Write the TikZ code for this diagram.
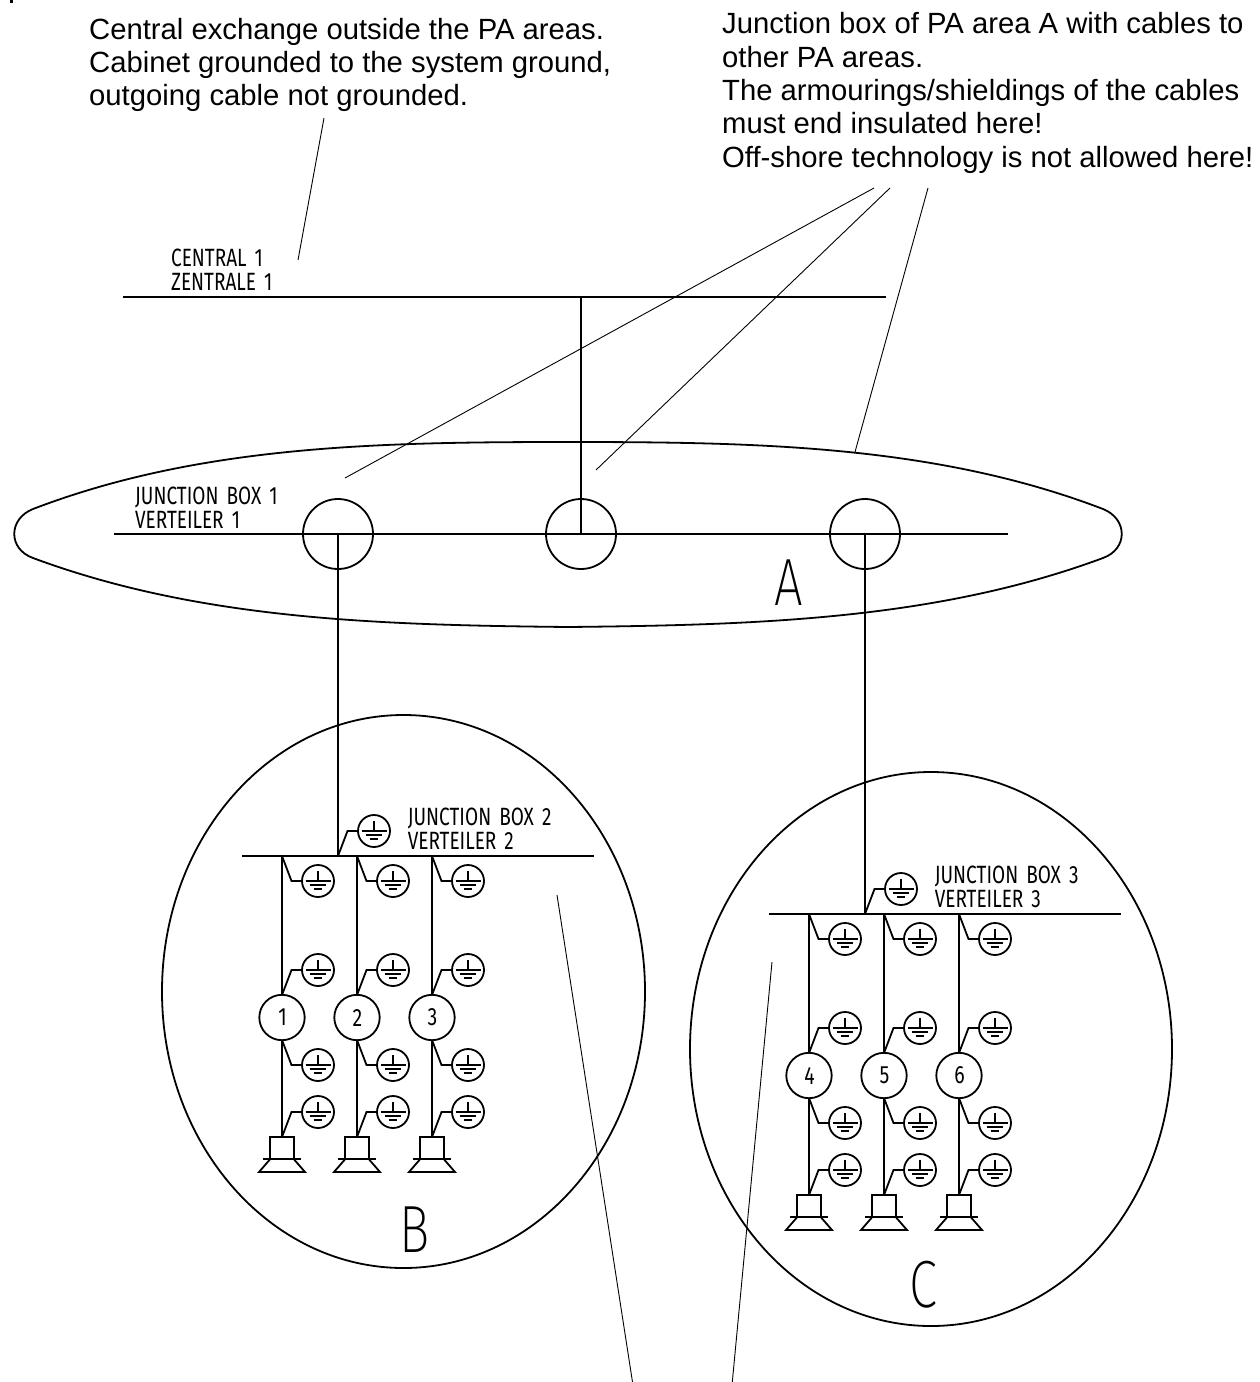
\documentclass[tikz,border=0pt]{standalone}
\usepackage{fontspec}
\setmainfont{Liberation Sans}
\newfontfamily\techfont[WordSpace=1.6]{Fira Sans}
\newfontfamily\bigfont{Fira Sans ExtraLight}
\tikzset{
  x=1pt,y=-1pt,
  wire/.style={draw=black,line width=1.8pt,line join=miter},
  leader/.style={draw=black,line width=0.9pt},
  note/.style={anchor=base west,inner sep=0pt,align=left,font=\fontsize{29.25}{33.3}\selectfont},
  devcircle/.style={circle,draw=black,fill=white,line width=1.8pt,minimum size=45.4pt,inner sep=0pt},
  hubcircle/.style={circle,draw=black,line width=1.8pt,minimum size=70pt,inner sep=0pt},
  gndcircle/.style={circle,draw=black,line width=1.8pt,minimum size=32pt,inner sep=0pt},
  techlabel/.style={anchor=base west,inner sep=0pt,font=\techfont\fontsize{25}{25}\selectfont,xscale=0.76},
  devlabel/.style={inner sep=0pt,font=\techfont\fontsize{25}{25}\selectfont,xscale=0.78},
  biglabel/.style={inner sep=0pt,font=\bigfont\fontsize{66.8}{66.8}\selectfont,xscale=0.76},
}
% ground symbol: #1 name, #2,#3 attach point, #4 direction (+1 down, -1 up)
\newcommand{\gnd}[4]{%
  \coordinate (#1a) at (#2,#3);
  \node[gndcircle] (#1) at ([xshift=36pt,yshift=-#4*25pt]#1a) {};
  \draw[wire] (#1a) -- ([xshift=9.5pt,yshift=-#4*25pt]#1a) -- (#1.west);
  \draw[wire] ([xshift=-12.5pt]#1.center) -- ([xshift=12.5pt]#1.center);
  \draw[wire] (#1.center) -- ([yshift=10.5pt]#1.center);
  \draw[wire] ([xshift=-8pt,yshift=-4pt]#1.center) -- ([xshift=8pt,yshift=-4pt]#1.center);
  \draw[wire] ([xshift=-4.3pt,yshift=-8pt]#1.center) -- ([xshift=4.3pt,yshift=-8pt]#1.center);
}
\begin{document}
\begin{tikzpicture}
\useasboundingbox (0,0) rectangle (1260,1382);
\fill[white] (0,0) rectangle (1260,1382);
\fill[black] (10,0) rectangle (13,3);

% notes
\node[note] (noteL1) at (89,39.3) {Central exchange outside the PA areas.};
\node[note] (noteL2) at (89,72.6) {Cabinet grounded to the system ground,};
\node[note] (noteL3) at (89,105.9) {outgoing cable not grounded.};
\node[note] (noteR1) at (722,33.5) {Junction box of PA area A with cables to};
\node[note] (noteR2) at (722,67) {other PA areas.};
\node[note] (noteR3) at (722,100.3) {The armourings/shieldings of the cables};
\node[note] (noteR4) at (722,133.7) {must end insulated here!};
\node[note] (noteR5) at (722,167) {Off-shore technology is not allowed here!};

% area A
\draw[wire] (33,509) .. controls (200,445) and (380,442) .. (568,442)
  .. controls (756,442) and (936,445) .. (1103,509)
  .. controls (1128,519) and (1128,549) .. (1103,558)
  .. controls (936,620) and (756,625) .. (568,627)
  .. controls (380,625) and (200,620) .. (33,558)
  .. controls (8,549) and (8,519) .. (33,509) -- cycle;

% central bus and box 1
\coordinate (cbL) at (123,297); \coordinate (cbR) at (886,297); \coordinate (cbT) at (581,297);
\coordinate (jbL) at (114,534); \coordinate (jbR) at (1008,534);
\draw[wire] (cbL) -- (cbR);
\draw[wire] (jbL) -- (jbR);
\node[hubcircle] (hub1) at (338,534) {};
\node[hubcircle] (hub2) at (581,534) {};
\node[hubcircle] (hub3) at (865,534) {};
\draw[wire] (cbT) -- (hub2.center);
\node[techlabel] (lc1) at (171,266.5) {CENTRAL 1};
\node[techlabel] (lc2) at (171,290) {ZENTRALE 1};
\node[techlabel] (lj1) at (135,504.5) {JUNCTION BOX 1};
\node[techlabel] (lj2) at (135,528.3) {VERTEILER 1};
\node[biglabel] (lA) at (789,582.5) {A};

% areas B and C
\draw[wire] (403.5,991.5) ellipse [x radius=241.5, y radius=276.5];
\draw[wire] (931,1049) ellipse [x radius=241, y radius=277];
\node[biglabel] (lB) at (414.5,1230) {B};
\node[biglabel] (lC) at (923,1285) {C};

\foreach \dx/\dy/\pre/\na/\nb/\nc/\jb in {0/0/b/1/2/3/2, 527/58/c/4/5/6/3}{
  \begin{scope}[shift={(\dx,\dy)}]
    \coordinate (\pre busL) at (242,856);
    \coordinate (\pre busR) at (594,856);
    \coordinate (\pre feed) at (338,856);
    \draw[wire] (\pre busL) -- (\pre busR);
    \gnd{\pre gt}{338}{856}{-1}
    \node[techlabel] at (407.7,825.7) {JUNCTION BOX \jb};
    \node[techlabel] at (407.7,849) {VERTEILER \jb};
    \foreach \x/\n in {282/\na,357/\nb,432/\nc}{
      \coordinate (\pre top\n) at (\x,856);
      \coordinate (\pre spk\n) at (\x,1137);
      \draw[wire] (\pre top\n) -- (\pre spk\n);
      \node[devcircle] (\pre dev\n) at (\x,1017.5) {};
      \node[devlabel] at (\x+0.5,1017.5) {\n};
      \gnd{\pre g1\n}{\x}{856}{1}
      \gnd{\pre g2\n}{\x}{995}{-1}
      \gnd{\pre g3\n}{\x}{1040}{1}
      \gnd{\pre g4\n}{\x}{1137}{-1}
      \draw[wire] (\x-11.7,1159) -- (\x-11.7,1137) -- (\x+11.7,1137) -- (\x+11.7,1159);
      \draw[wire] (\x-18.7,1159) -- (\x+18.7,1159);
      \draw[wire] (\x-11.7,1159) -- (\x-23,1172) -- (\x+23,1172) -- (\x+11.7,1159);
    }
  \end{scope}
}
\draw[wire] (hub1.center) -- (bfeed);
\draw[wire] (hub3.center) -- (cfeed);

% leaders
\coordinate (e1) at (324,118); \coordinate (e2) at (298,260);
\draw[leader] (e1) -- (e2);
\coordinate (r1) at (874,188); \coordinate (r1e) at (345,478);
\coordinate (r2) at (890,188); \coordinate (r2e) at (596,470);
\coordinate (r3) at (928,188); \coordinate (r3e) at (855,452);
\draw[leader] (r1) -- (r1e);
\draw[leader] (r2) -- (r2e);
\draw[leader] (r3) -- (r3e);
\coordinate (b1) at (557,895); \coordinate (b1e) at (632.5,1382);
\coordinate (b2) at (772,962); \coordinate (b2e) at (732.3,1382);
\draw[leader] (b1) -- (b1e);
\draw[leader] (b2) -- (b2e);
\end{tikzpicture}
\end{document}
